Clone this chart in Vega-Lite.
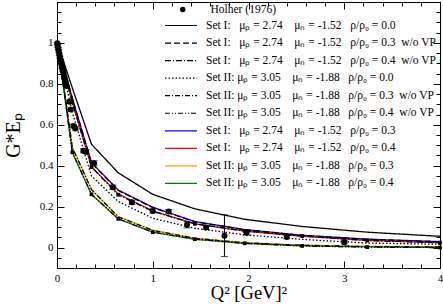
{
  "$schema": "https://vega.github.io/schema/vega-lite/v6.json",
  "width": 383,
  "height": 266,
  "autosize": {"type": "none"},
  "padding": {"left": 57, "top": 2, "right": 3, "bottom": 40},
  "config": {
    "view": {"stroke": "black", "strokeWidth": 1},
    "font": "Liberation Serif",
    "axis": {
      "labelFont": "Liberation Serif", "labelFontSize": 11, "labelColor": "black",
      "tickColor": "black", "domainColor": "black", "grid": false,
      "labelOverlap": false, "labelFlush": false,
      "titleFont": "Liberation Serif", "titleFontWeight": "normal", "titleColor": "black"
    }
  },
  "datasets": {
    "colored": [
      {"series": "Set I:\u00a0\u00a0\u00a0μₚ = 2.74\u00a0\u00a0\u00a0\u00a0μₙ = -1.52\u00a0\u00a0\u00a0ρ/ρ₀ = 0.3", "q2": 0, "g": 1},
      {"series": "Set I:\u00a0\u00a0\u00a0μₚ = 2.74\u00a0\u00a0\u00a0\u00a0μₙ = -1.52\u00a0\u00a0\u00a0ρ/ρ₀ = 0.3", "q2": 0.04, "g": 0.93},
      {"series": "Set I:\u00a0\u00a0\u00a0μₚ = 2.74\u00a0\u00a0\u00a0\u00a0μₙ = -1.52\u00a0\u00a0\u00a0ρ/ρ₀ = 0.3", "q2": 0.16, "g": 0.73},
      {"series": "Set I:\u00a0\u00a0\u00a0μₚ = 2.74\u00a0\u00a0\u00a0\u00a0μₙ = -1.52\u00a0\u00a0\u00a0ρ/ρ₀ = 0.3", "q2": 0.36, "g": 0.415},
      {"series": "Set I:\u00a0\u00a0\u00a0μₚ = 2.74\u00a0\u00a0\u00a0\u00a0μₙ = -1.52\u00a0\u00a0\u00a0ρ/ρ₀ = 0.3", "q2": 0.64, "g": 0.281},
      {"series": "Set I:\u00a0\u00a0\u00a0μₚ = 2.74\u00a0\u00a0\u00a0\u00a0μₙ = -1.52\u00a0\u00a0\u00a0ρ/ρ₀ = 0.3", "q2": 1, "g": 0.197},
      {"series": "Set I:\u00a0\u00a0\u00a0μₚ = 2.74\u00a0\u00a0\u00a0\u00a0μₙ = -1.52\u00a0\u00a0\u00a0ρ/ρ₀ = 0.3", "q2": 1.44, "g": 0.127},
      {"series": "Set I:\u00a0\u00a0\u00a0μₚ = 2.74\u00a0\u00a0\u00a0\u00a0μₙ = -1.52\u00a0\u00a0\u00a0ρ/ρ₀ = 0.3", "q2": 1.96, "g": 0.088},
      {"series": "Set I:\u00a0\u00a0\u00a0μₚ = 2.74\u00a0\u00a0\u00a0\u00a0μₙ = -1.52\u00a0\u00a0\u00a0ρ/ρ₀ = 0.3", "q2": 2.56, "g": 0.06},
      {"series": "Set I:\u00a0\u00a0\u00a0μₚ = 2.74\u00a0\u00a0\u00a0\u00a0μₙ = -1.52\u00a0\u00a0\u00a0ρ/ρ₀ = 0.3", "q2": 3.24, "g": 0.041},
      {"series": "Set I:\u00a0\u00a0\u00a0μₚ = 2.74\u00a0\u00a0\u00a0\u00a0μₙ = -1.52\u00a0\u00a0\u00a0ρ/ρ₀ = 0.3", "q2": 4, "g": 0.029},
      {"series": "Set I:\u00a0\u00a0\u00a0μₚ = 2.74\u00a0\u00a0\u00a0\u00a0μₙ = -1.52\u00a0\u00a0\u00a0ρ/ρ₀ = 0.4", "q2": 0, "g": 1},
      {"series": "Set I:\u00a0\u00a0\u00a0μₚ = 2.74\u00a0\u00a0\u00a0\u00a0μₙ = -1.52\u00a0\u00a0\u00a0ρ/ρ₀ = 0.4", "q2": 0.04, "g": 0.92},
      {"series": "Set I:\u00a0\u00a0\u00a0μₚ = 2.74\u00a0\u00a0\u00a0\u00a0μₙ = -1.52\u00a0\u00a0\u00a0ρ/ρ₀ = 0.4", "q2": 0.16, "g": 0.71},
      {"series": "Set I:\u00a0\u00a0\u00a0μₚ = 2.74\u00a0\u00a0\u00a0\u00a0μₙ = -1.52\u00a0\u00a0\u00a0ρ/ρ₀ = 0.4", "q2": 0.36, "g": 0.395},
      {"series": "Set I:\u00a0\u00a0\u00a0μₚ = 2.74\u00a0\u00a0\u00a0\u00a0μₙ = -1.52\u00a0\u00a0\u00a0ρ/ρ₀ = 0.4", "q2": 0.64, "g": 0.262},
      {"series": "Set I:\u00a0\u00a0\u00a0μₚ = 2.74\u00a0\u00a0\u00a0\u00a0μₙ = -1.52\u00a0\u00a0\u00a0ρ/ρ₀ = 0.4", "q2": 1, "g": 0.179},
      {"series": "Set I:\u00a0\u00a0\u00a0μₚ = 2.74\u00a0\u00a0\u00a0\u00a0μₙ = -1.52\u00a0\u00a0\u00a0ρ/ρ₀ = 0.4", "q2": 1.44, "g": 0.116},
      {"series": "Set I:\u00a0\u00a0\u00a0μₚ = 2.74\u00a0\u00a0\u00a0\u00a0μₙ = -1.52\u00a0\u00a0\u00a0ρ/ρ₀ = 0.4", "q2": 1.96, "g": 0.08},
      {"series": "Set I:\u00a0\u00a0\u00a0μₚ = 2.74\u00a0\u00a0\u00a0\u00a0μₙ = -1.52\u00a0\u00a0\u00a0ρ/ρ₀ = 0.4", "q2": 2.56, "g": 0.055},
      {"series": "Set I:\u00a0\u00a0\u00a0μₚ = 2.74\u00a0\u00a0\u00a0\u00a0μₙ = -1.52\u00a0\u00a0\u00a0ρ/ρ₀ = 0.4", "q2": 3.24, "g": 0.035},
      {"series": "Set I:\u00a0\u00a0\u00a0μₚ = 2.74\u00a0\u00a0\u00a0\u00a0μₙ = -1.52\u00a0\u00a0\u00a0ρ/ρ₀ = 0.4", "q2": 4, "g": 0.023},
      {"series": "Set II:\u00a0μₚ = 3.05\u00a0\u00a0\u00a0\u00a0μₙ = -1.88\u00a0\u00a0\u00a0ρ/ρ₀ = 0.3", "q2": 0, "g": 1},
      {"series": "Set II:\u00a0μₚ = 3.05\u00a0\u00a0\u00a0\u00a0μₙ = -1.88\u00a0\u00a0\u00a0ρ/ρ₀ = 0.3", "q2": 0.04, "g": 0.89},
      {"series": "Set II:\u00a0μₚ = 3.05\u00a0\u00a0\u00a0\u00a0μₙ = -1.88\u00a0\u00a0\u00a0ρ/ρ₀ = 0.3", "q2": 0.16, "g": 0.49},
      {"series": "Set II:\u00a0μₚ = 3.05\u00a0\u00a0\u00a0\u00a0μₙ = -1.88\u00a0\u00a0\u00a0ρ/ρ₀ = 0.3", "q2": 0.36, "g": 0.285},
      {"series": "Set II:\u00a0μₚ = 3.05\u00a0\u00a0\u00a0\u00a0μₙ = -1.88\u00a0\u00a0\u00a0ρ/ρ₀ = 0.3", "q2": 0.64, "g": 0.151},
      {"series": "Set II:\u00a0μₚ = 3.05\u00a0\u00a0\u00a0\u00a0μₙ = -1.88\u00a0\u00a0\u00a0ρ/ρ₀ = 0.3", "q2": 1, "g": 0.085},
      {"series": "Set II:\u00a0μₚ = 3.05\u00a0\u00a0\u00a0\u00a0μₙ = -1.88\u00a0\u00a0\u00a0ρ/ρ₀ = 0.3", "q2": 1.44, "g": 0.046},
      {"series": "Set II:\u00a0μₚ = 3.05\u00a0\u00a0\u00a0\u00a0μₙ = -1.88\u00a0\u00a0\u00a0ρ/ρ₀ = 0.3", "q2": 1.96, "g": 0.024},
      {"series": "Set II:\u00a0μₚ = 3.05\u00a0\u00a0\u00a0\u00a0μₙ = -1.88\u00a0\u00a0\u00a0ρ/ρ₀ = 0.3", "q2": 2.56, "g": 0.012},
      {"series": "Set II:\u00a0μₚ = 3.05\u00a0\u00a0\u00a0\u00a0μₙ = -1.88\u00a0\u00a0\u00a0ρ/ρ₀ = 0.3", "q2": 3.24, "g": 0.006},
      {"series": "Set II:\u00a0μₚ = 3.05\u00a0\u00a0\u00a0\u00a0μₙ = -1.88\u00a0\u00a0\u00a0ρ/ρ₀ = 0.3", "q2": 4, "g": 0.004},
      {"series": "Set II:\u00a0μₚ = 3.05\u00a0\u00a0\u00a0\u00a0μₙ = -1.88\u00a0\u00a0\u00a0ρ/ρ₀ = 0.4", "q2": 0, "g": 1},
      {"series": "Set II:\u00a0μₚ = 3.05\u00a0\u00a0\u00a0\u00a0μₙ = -1.88\u00a0\u00a0\u00a0ρ/ρ₀ = 0.4", "q2": 0.04, "g": 0.88},
      {"series": "Set II:\u00a0μₚ = 3.05\u00a0\u00a0\u00a0\u00a0μₙ = -1.88\u00a0\u00a0\u00a0ρ/ρ₀ = 0.4", "q2": 0.16, "g": 0.465},
      {"series": "Set II:\u00a0μₚ = 3.05\u00a0\u00a0\u00a0\u00a0μₙ = -1.88\u00a0\u00a0\u00a0ρ/ρ₀ = 0.4", "q2": 0.36, "g": 0.26},
      {"series": "Set II:\u00a0μₚ = 3.05\u00a0\u00a0\u00a0\u00a0μₙ = -1.88\u00a0\u00a0\u00a0ρ/ρ₀ = 0.4", "q2": 0.64, "g": 0.14},
      {"series": "Set II:\u00a0μₚ = 3.05\u00a0\u00a0\u00a0\u00a0μₙ = -1.88\u00a0\u00a0\u00a0ρ/ρ₀ = 0.4", "q2": 1, "g": 0.075},
      {"series": "Set II:\u00a0μₚ = 3.05\u00a0\u00a0\u00a0\u00a0μₙ = -1.88\u00a0\u00a0\u00a0ρ/ρ₀ = 0.4", "q2": 1.44, "g": 0.04},
      {"series": "Set II:\u00a0μₚ = 3.05\u00a0\u00a0\u00a0\u00a0μₙ = -1.88\u00a0\u00a0\u00a0ρ/ρ₀ = 0.4", "q2": 1.96, "g": 0.02},
      {"series": "Set II:\u00a0μₚ = 3.05\u00a0\u00a0\u00a0\u00a0μₙ = -1.88\u00a0\u00a0\u00a0ρ/ρ₀ = 0.4", "q2": 2.56, "g": 0.008},
      {"series": "Set II:\u00a0μₚ = 3.05\u00a0\u00a0\u00a0\u00a0μₙ = -1.88\u00a0\u00a0\u00a0ρ/ρ₀ = 0.4", "q2": 3.24, "g": 0.003},
      {"series": "Set II:\u00a0μₚ = 3.05\u00a0\u00a0\u00a0\u00a0μₙ = -1.88\u00a0\u00a0\u00a0ρ/ρ₀ = 0.4", "q2": 4, "g": 0.0}
    ],
    "black": [
      {"series": "Set I:\u00a0\u00a0\u00a0μₚ = 2.74\u00a0\u00a0\u00a0\u00a0μₙ = -1.52\u00a0\u00a0\u00a0ρ/ρ₀ = 0.0", "q2": 0, "g": 1},
      {"series": "Set I:\u00a0\u00a0\u00a0μₚ = 2.74\u00a0\u00a0\u00a0\u00a0μₙ = -1.52\u00a0\u00a0\u00a0ρ/ρ₀ = 0.0", "q2": 0.04, "g": 0.95},
      {"series": "Set I:\u00a0\u00a0\u00a0μₚ = 2.74\u00a0\u00a0\u00a0\u00a0μₙ = -1.52\u00a0\u00a0\u00a0ρ/ρ₀ = 0.0", "q2": 0.16, "g": 0.78},
      {"series": "Set I:\u00a0\u00a0\u00a0μₚ = 2.74\u00a0\u00a0\u00a0\u00a0μₙ = -1.52\u00a0\u00a0\u00a0ρ/ρ₀ = 0.0", "q2": 0.36, "g": 0.505},
      {"series": "Set I:\u00a0\u00a0\u00a0μₚ = 2.74\u00a0\u00a0\u00a0\u00a0μₙ = -1.52\u00a0\u00a0\u00a0ρ/ρ₀ = 0.0", "q2": 0.64, "g": 0.365},
      {"series": "Set I:\u00a0\u00a0\u00a0μₚ = 2.74\u00a0\u00a0\u00a0\u00a0μₙ = -1.52\u00a0\u00a0\u00a0ρ/ρ₀ = 0.0", "q2": 1, "g": 0.26},
      {"series": "Set I:\u00a0\u00a0\u00a0μₚ = 2.74\u00a0\u00a0\u00a0\u00a0μₙ = -1.52\u00a0\u00a0\u00a0ρ/ρ₀ = 0.0", "q2": 1.44, "g": 0.189},
      {"series": "Set I:\u00a0\u00a0\u00a0μₚ = 2.74\u00a0\u00a0\u00a0\u00a0μₙ = -1.52\u00a0\u00a0\u00a0ρ/ρ₀ = 0.0", "q2": 1.96, "g": 0.138},
      {"series": "Set I:\u00a0\u00a0\u00a0μₚ = 2.74\u00a0\u00a0\u00a0\u00a0μₙ = -1.52\u00a0\u00a0\u00a0ρ/ρ₀ = 0.0", "q2": 2.56, "g": 0.103},
      {"series": "Set I:\u00a0\u00a0\u00a0μₚ = 2.74\u00a0\u00a0\u00a0\u00a0μₙ = -1.52\u00a0\u00a0\u00a0ρ/ρ₀ = 0.0", "q2": 3.24, "g": 0.075},
      {"series": "Set I:\u00a0\u00a0\u00a0μₚ = 2.74\u00a0\u00a0\u00a0\u00a0μₙ = -1.52\u00a0\u00a0\u00a0ρ/ρ₀ = 0.0", "q2": 4, "g": 0.055},
      {"series": "Set I:\u00a0\u00a0\u00a0μₚ = 2.74\u00a0\u00a0\u00a0\u00a0μₙ = -1.52\u00a0\u00a0\u00a0ρ/ρ₀ = 0.3\u00a0\u00a0w/o VP", "q2": 0, "g": 1},
      {"series": "Set I:\u00a0\u00a0\u00a0μₚ = 2.74\u00a0\u00a0\u00a0\u00a0μₙ = -1.52\u00a0\u00a0\u00a0ρ/ρ₀ = 0.3\u00a0\u00a0w/o VP", "q2": 0.04, "g": 0.93},
      {"series": "Set I:\u00a0\u00a0\u00a0μₚ = 2.74\u00a0\u00a0\u00a0\u00a0μₙ = -1.52\u00a0\u00a0\u00a0ρ/ρ₀ = 0.3\u00a0\u00a0w/o VP", "q2": 0.16, "g": 0.73},
      {"series": "Set I:\u00a0\u00a0\u00a0μₚ = 2.74\u00a0\u00a0\u00a0\u00a0μₙ = -1.52\u00a0\u00a0\u00a0ρ/ρ₀ = 0.3\u00a0\u00a0w/o VP", "q2": 0.36, "g": 0.413},
      {"series": "Set I:\u00a0\u00a0\u00a0μₚ = 2.74\u00a0\u00a0\u00a0\u00a0μₙ = -1.52\u00a0\u00a0\u00a0ρ/ρ₀ = 0.3\u00a0\u00a0w/o VP", "q2": 0.64, "g": 0.279},
      {"series": "Set I:\u00a0\u00a0\u00a0μₚ = 2.74\u00a0\u00a0\u00a0\u00a0μₙ = -1.52\u00a0\u00a0\u00a0ρ/ρ₀ = 0.3\u00a0\u00a0w/o VP", "q2": 1, "g": 0.195},
      {"series": "Set I:\u00a0\u00a0\u00a0μₚ = 2.74\u00a0\u00a0\u00a0\u00a0μₙ = -1.52\u00a0\u00a0\u00a0ρ/ρ₀ = 0.3\u00a0\u00a0w/o VP", "q2": 1.44, "g": 0.126},
      {"series": "Set I:\u00a0\u00a0\u00a0μₚ = 2.74\u00a0\u00a0\u00a0\u00a0μₙ = -1.52\u00a0\u00a0\u00a0ρ/ρ₀ = 0.3\u00a0\u00a0w/o VP", "q2": 1.96, "g": 0.087},
      {"series": "Set I:\u00a0\u00a0\u00a0μₚ = 2.74\u00a0\u00a0\u00a0\u00a0μₙ = -1.52\u00a0\u00a0\u00a0ρ/ρ₀ = 0.3\u00a0\u00a0w/o VP", "q2": 2.56, "g": 0.059},
      {"series": "Set I:\u00a0\u00a0\u00a0μₚ = 2.74\u00a0\u00a0\u00a0\u00a0μₙ = -1.52\u00a0\u00a0\u00a0ρ/ρ₀ = 0.3\u00a0\u00a0w/o VP", "q2": 3.24, "g": 0.04},
      {"series": "Set I:\u00a0\u00a0\u00a0μₚ = 2.74\u00a0\u00a0\u00a0\u00a0μₙ = -1.52\u00a0\u00a0\u00a0ρ/ρ₀ = 0.3\u00a0\u00a0w/o VP", "q2": 4, "g": 0.028},
      {"series": "Set I:\u00a0\u00a0\u00a0μₚ = 2.74\u00a0\u00a0\u00a0\u00a0μₙ = -1.52\u00a0\u00a0\u00a0ρ/ρ₀ = 0.4\u00a0\u00a0w/o VP", "q2": 0, "g": 1},
      {"series": "Set I:\u00a0\u00a0\u00a0μₚ = 2.74\u00a0\u00a0\u00a0\u00a0μₙ = -1.52\u00a0\u00a0\u00a0ρ/ρ₀ = 0.4\u00a0\u00a0w/o VP", "q2": 0.04, "g": 0.92},
      {"series": "Set I:\u00a0\u00a0\u00a0μₚ = 2.74\u00a0\u00a0\u00a0\u00a0μₙ = -1.52\u00a0\u00a0\u00a0ρ/ρ₀ = 0.4\u00a0\u00a0w/o VP", "q2": 0.16, "g": 0.71},
      {"series": "Set I:\u00a0\u00a0\u00a0μₚ = 2.74\u00a0\u00a0\u00a0\u00a0μₙ = -1.52\u00a0\u00a0\u00a0ρ/ρ₀ = 0.4\u00a0\u00a0w/o VP", "q2": 0.36, "g": 0.393},
      {"series": "Set I:\u00a0\u00a0\u00a0μₚ = 2.74\u00a0\u00a0\u00a0\u00a0μₙ = -1.52\u00a0\u00a0\u00a0ρ/ρ₀ = 0.4\u00a0\u00a0w/o VP", "q2": 0.64, "g": 0.258},
      {"series": "Set I:\u00a0\u00a0\u00a0μₚ = 2.74\u00a0\u00a0\u00a0\u00a0μₙ = -1.52\u00a0\u00a0\u00a0ρ/ρ₀ = 0.4\u00a0\u00a0w/o VP", "q2": 1, "g": 0.177},
      {"series": "Set I:\u00a0\u00a0\u00a0μₚ = 2.74\u00a0\u00a0\u00a0\u00a0μₙ = -1.52\u00a0\u00a0\u00a0ρ/ρ₀ = 0.4\u00a0\u00a0w/o VP", "q2": 1.44, "g": 0.116},
      {"series": "Set I:\u00a0\u00a0\u00a0μₚ = 2.74\u00a0\u00a0\u00a0\u00a0μₙ = -1.52\u00a0\u00a0\u00a0ρ/ρ₀ = 0.4\u00a0\u00a0w/o VP", "q2": 1.96, "g": 0.081},
      {"series": "Set I:\u00a0\u00a0\u00a0μₚ = 2.74\u00a0\u00a0\u00a0\u00a0μₙ = -1.52\u00a0\u00a0\u00a0ρ/ρ₀ = 0.4\u00a0\u00a0w/o VP", "q2": 2.56, "g": 0.056},
      {"series": "Set I:\u00a0\u00a0\u00a0μₚ = 2.74\u00a0\u00a0\u00a0\u00a0μₙ = -1.52\u00a0\u00a0\u00a0ρ/ρ₀ = 0.4\u00a0\u00a0w/o VP", "q2": 3.24, "g": 0.034},
      {"series": "Set I:\u00a0\u00a0\u00a0μₚ = 2.74\u00a0\u00a0\u00a0\u00a0μₙ = -1.52\u00a0\u00a0\u00a0ρ/ρ₀ = 0.4\u00a0\u00a0w/o VP", "q2": 4, "g": 0.024},
      {"series": "Set II:\u00a0μₚ = 3.05\u00a0\u00a0\u00a0\u00a0μₙ = -1.88\u00a0\u00a0\u00a0ρ/ρ₀ = 0.0", "q2": 0, "g": 1},
      {"series": "Set II:\u00a0μₚ = 3.05\u00a0\u00a0\u00a0\u00a0μₙ = -1.88\u00a0\u00a0\u00a0ρ/ρ₀ = 0.0", "q2": 0.04, "g": 0.91},
      {"series": "Set II:\u00a0μₚ = 3.05\u00a0\u00a0\u00a0\u00a0μₙ = -1.88\u00a0\u00a0\u00a0ρ/ρ₀ = 0.0", "q2": 0.16, "g": 0.66},
      {"series": "Set II:\u00a0μₚ = 3.05\u00a0\u00a0\u00a0\u00a0μₙ = -1.88\u00a0\u00a0\u00a0ρ/ρ₀ = 0.0", "q2": 0.36, "g": 0.35},
      {"series": "Set II:\u00a0μₚ = 3.05\u00a0\u00a0\u00a0\u00a0μₙ = -1.88\u00a0\u00a0\u00a0ρ/ρ₀ = 0.0", "q2": 0.64, "g": 0.225},
      {"series": "Set II:\u00a0μₚ = 3.05\u00a0\u00a0\u00a0\u00a0μₙ = -1.88\u00a0\u00a0\u00a0ρ/ρ₀ = 0.0", "q2": 1, "g": 0.143},
      {"series": "Set II:\u00a0μₚ = 3.05\u00a0\u00a0\u00a0\u00a0μₙ = -1.88\u00a0\u00a0\u00a0ρ/ρ₀ = 0.0", "q2": 1.44, "g": 0.094},
      {"series": "Set II:\u00a0μₚ = 3.05\u00a0\u00a0\u00a0\u00a0μₙ = -1.88\u00a0\u00a0\u00a0ρ/ρ₀ = 0.0", "q2": 1.96, "g": 0.062},
      {"series": "Set II:\u00a0μₚ = 3.05\u00a0\u00a0\u00a0\u00a0μₙ = -1.88\u00a0\u00a0\u00a0ρ/ρ₀ = 0.0", "q2": 2.56, "g": 0.04},
      {"series": "Set II:\u00a0μₚ = 3.05\u00a0\u00a0\u00a0\u00a0μₙ = -1.88\u00a0\u00a0\u00a0ρ/ρ₀ = 0.0", "q2": 3.24, "g": 0.022},
      {"series": "Set II:\u00a0μₚ = 3.05\u00a0\u00a0\u00a0\u00a0μₙ = -1.88\u00a0\u00a0\u00a0ρ/ρ₀ = 0.0", "q2": 4, "g": 0.016},
      {"series": "Set II:\u00a0μₚ = 3.05\u00a0\u00a0\u00a0\u00a0μₙ = -1.88\u00a0\u00a0\u00a0ρ/ρ₀ = 0.3\u00a0\u00a0w/o VP", "q2": 0, "g": 1},
      {"series": "Set II:\u00a0μₚ = 3.05\u00a0\u00a0\u00a0\u00a0μₙ = -1.88\u00a0\u00a0\u00a0ρ/ρ₀ = 0.3\u00a0\u00a0w/o VP", "q2": 0.04, "g": 0.89},
      {"series": "Set II:\u00a0μₚ = 3.05\u00a0\u00a0\u00a0\u00a0μₙ = -1.88\u00a0\u00a0\u00a0ρ/ρ₀ = 0.3\u00a0\u00a0w/o VP", "q2": 0.16, "g": 0.49},
      {"series": "Set II:\u00a0μₚ = 3.05\u00a0\u00a0\u00a0\u00a0μₙ = -1.88\u00a0\u00a0\u00a0ρ/ρ₀ = 0.3\u00a0\u00a0w/o VP", "q2": 0.36, "g": 0.283},
      {"series": "Set II:\u00a0μₚ = 3.05\u00a0\u00a0\u00a0\u00a0μₙ = -1.88\u00a0\u00a0\u00a0ρ/ρ₀ = 0.3\u00a0\u00a0w/o VP", "q2": 0.64, "g": 0.15},
      {"series": "Set II:\u00a0μₚ = 3.05\u00a0\u00a0\u00a0\u00a0μₙ = -1.88\u00a0\u00a0\u00a0ρ/ρ₀ = 0.3\u00a0\u00a0w/o VP", "q2": 1, "g": 0.084},
      {"series": "Set II:\u00a0μₚ = 3.05\u00a0\u00a0\u00a0\u00a0μₙ = -1.88\u00a0\u00a0\u00a0ρ/ρ₀ = 0.3\u00a0\u00a0w/o VP", "q2": 1.44, "g": 0.045},
      {"series": "Set II:\u00a0μₚ = 3.05\u00a0\u00a0\u00a0\u00a0μₙ = -1.88\u00a0\u00a0\u00a0ρ/ρ₀ = 0.3\u00a0\u00a0w/o VP", "q2": 1.96, "g": 0.023},
      {"series": "Set II:\u00a0μₚ = 3.05\u00a0\u00a0\u00a0\u00a0μₙ = -1.88\u00a0\u00a0\u00a0ρ/ρ₀ = 0.3\u00a0\u00a0w/o VP", "q2": 2.56, "g": 0.011},
      {"series": "Set II:\u00a0μₚ = 3.05\u00a0\u00a0\u00a0\u00a0μₙ = -1.88\u00a0\u00a0\u00a0ρ/ρ₀ = 0.3\u00a0\u00a0w/o VP", "q2": 3.24, "g": 0.005},
      {"series": "Set II:\u00a0μₚ = 3.05\u00a0\u00a0\u00a0\u00a0μₙ = -1.88\u00a0\u00a0\u00a0ρ/ρ₀ = 0.3\u00a0\u00a0w/o VP", "q2": 4, "g": 0.003},
      {"series": "Set II:\u00a0μₚ = 3.05\u00a0\u00a0\u00a0\u00a0μₙ = -1.88\u00a0\u00a0\u00a0ρ/ρ₀ = 0.4\u00a0\u00a0w/o VP", "q2": 0, "g": 1},
      {"series": "Set II:\u00a0μₚ = 3.05\u00a0\u00a0\u00a0\u00a0μₙ = -1.88\u00a0\u00a0\u00a0ρ/ρ₀ = 0.4\u00a0\u00a0w/o VP", "q2": 0.04, "g": 0.88},
      {"series": "Set II:\u00a0μₚ = 3.05\u00a0\u00a0\u00a0\u00a0μₙ = -1.88\u00a0\u00a0\u00a0ρ/ρ₀ = 0.4\u00a0\u00a0w/o VP", "q2": 0.16, "g": 0.465},
      {"series": "Set II:\u00a0μₚ = 3.05\u00a0\u00a0\u00a0\u00a0μₙ = -1.88\u00a0\u00a0\u00a0ρ/ρ₀ = 0.4\u00a0\u00a0w/o VP", "q2": 0.36, "g": 0.26},
      {"series": "Set II:\u00a0μₚ = 3.05\u00a0\u00a0\u00a0\u00a0μₙ = -1.88\u00a0\u00a0\u00a0ρ/ρ₀ = 0.4\u00a0\u00a0w/o VP", "q2": 0.64, "g": 0.14},
      {"series": "Set II:\u00a0μₚ = 3.05\u00a0\u00a0\u00a0\u00a0μₙ = -1.88\u00a0\u00a0\u00a0ρ/ρ₀ = 0.4\u00a0\u00a0w/o VP", "q2": 1, "g": 0.075},
      {"series": "Set II:\u00a0μₚ = 3.05\u00a0\u00a0\u00a0\u00a0μₙ = -1.88\u00a0\u00a0\u00a0ρ/ρ₀ = 0.4\u00a0\u00a0w/o VP", "q2": 1.44, "g": 0.041},
      {"series": "Set II:\u00a0μₚ = 3.05\u00a0\u00a0\u00a0\u00a0μₙ = -1.88\u00a0\u00a0\u00a0ρ/ρ₀ = 0.4\u00a0\u00a0w/o VP", "q2": 1.96, "g": 0.021},
      {"series": "Set II:\u00a0μₚ = 3.05\u00a0\u00a0\u00a0\u00a0μₙ = -1.88\u00a0\u00a0\u00a0ρ/ρ₀ = 0.4\u00a0\u00a0w/o VP", "q2": 2.56, "g": 0.008},
      {"series": "Set II:\u00a0μₚ = 3.05\u00a0\u00a0\u00a0\u00a0μₙ = -1.88\u00a0\u00a0\u00a0ρ/ρ₀ = 0.4\u00a0\u00a0w/o VP", "q2": 3.24, "g": 0.002},
      {"series": "Set II:\u00a0μₚ = 3.05\u00a0\u00a0\u00a0\u00a0μₙ = -1.88\u00a0\u00a0\u00a0ρ/ρ₀ = 0.4\u00a0\u00a0w/o VP", "q2": 4, "g": 0.0}
    ],
    "holher": [
      {"series": "Holher (1976)", "q2": 0.003, "g": 0.998, "lo": 0.993, "hi": 1.003},
      {"series": "Holher (1976)", "q2": 0.008, "g": 0.985, "lo": 0.98, "hi": 0.99},
      {"series": "Holher (1976)", "q2": 0.013, "g": 0.972, "lo": 0.967, "hi": 0.977},
      {"series": "Holher (1976)", "q2": 0.018, "g": 0.96, "lo": 0.955, "hi": 0.965},
      {"series": "Holher (1976)", "q2": 0.024, "g": 0.945, "lo": 0.94, "hi": 0.95},
      {"series": "Holher (1976)", "q2": 0.03, "g": 0.93, "lo": 0.925, "hi": 0.935},
      {"series": "Holher (1976)", "q2": 0.037, "g": 0.915, "lo": 0.91, "hi": 0.92},
      {"series": "Holher (1976)", "q2": 0.044, "g": 0.9, "lo": 0.895, "hi": 0.905},
      {"series": "Holher (1976)", "q2": 0.052, "g": 0.882, "lo": 0.877, "hi": 0.887},
      {"series": "Holher (1976)", "q2": 0.06, "g": 0.865, "lo": 0.86, "hi": 0.87},
      {"series": "Holher (1976)", "q2": 0.068, "g": 0.85, "lo": 0.845, "hi": 0.855},
      {"series": "Holher (1976)", "q2": 0.077, "g": 0.83, "lo": 0.825, "hi": 0.835},
      {"series": "Holher (1976)", "q2": 0.087, "g": 0.812, "lo": 0.807, "hi": 0.817},
      {"series": "Holher (1976)", "q2": 0.098, "g": 0.79, "lo": 0.785, "hi": 0.795},
      {"series": "Holher (1976)", "q2": 0.129, "g": 0.712, "lo": 0.705, "hi": 0.719},
      {"series": "Holher (1976)", "q2": 0.143, "g": 0.675, "lo": 0.668, "hi": 0.682},
      {"series": "Holher (1976)", "q2": 0.171, "g": 0.594, "lo": 0.586, "hi": 0.602},
      {"series": "Holher (1976)", "q2": 0.192, "g": 0.582, "lo": 0.574, "hi": 0.59},
      {"series": "Holher (1976)", "q2": 0.276, "g": 0.473, "lo": 0.463, "hi": 0.483},
      {"series": "Holher (1976)", "q2": 0.304, "g": 0.468, "lo": 0.458, "hi": 0.478},
      {"series": "Holher (1976)", "q2": 0.387, "g": 0.412, "lo": 0.4, "hi": 0.424},
      {"series": "Holher (1976)", "q2": 0.583, "g": 0.295, "lo": 0.285, "hi": 0.305},
      {"series": "Holher (1976)", "q2": 0.782, "g": 0.221, "lo": 0.211, "hi": 0.231},
      {"series": "Holher (1976)", "q2": 1.0, "g": 0.179, "lo": 0.169, "hi": 0.189},
      {"series": "Holher (1976)", "q2": 1.166, "g": 0.176, "lo": 0.166, "hi": 0.186},
      {"series": "Holher (1976)", "q2": 1.358, "g": 0.111, "lo": 0.096, "hi": 0.126},
      {"series": "Holher (1976)", "q2": 1.557, "g": 0.098, "lo": 0.088, "hi": 0.108},
      {"series": "Holher (1976)", "q2": 1.749, "g": 0.058, "lo": -0.044, "hi": 0.16},
      {"series": "Holher (1976)", "q2": 1.98, "g": 0.072, "lo": 0.062, "hi": 0.082},
      {"series": "Holher (1976)", "q2": 2.4, "g": 0.051, "lo": 0.043, "hi": 0.059},
      {"series": "Holher (1976)", "q2": 3.0, "g": 0.026, "lo": 0.018, "hi": 0.034}
    ]
  },
  "layer": [
    {
      "data": {"name": "colored"},
      "mark": {"type": "line", "strokeWidth": 1.3},
      "encoding": {
        "x": {
          "field": "q2", "type": "quantitative",
          "scale": {"domain": [0, 4], "nice": false, "zero": false},
          "axis": {
            "orient": "bottom",
            "values": [0, 0.2, 0.4, 0.6, 0.8, 1, 1.2, 1.4, 1.6, 1.8, 2, 2.2, 2.4, 2.6, 2.8, 3, 3.2, 3.4, 3.6, 3.8, 4],
            "tickSize": {"condition": {"test": "datum.value % 1 === 0", "value": -7}, "value": -4},
            "labelExpr": "datum.value % 1 === 0 ? format(datum.value, 'd') : ''",
            "labelPadding": 11,
            "title": "Q² [GeV]²", "titleFontSize": 18.5, "titleY": 24, "titleBaseline": "middle"
          }
        },
        "y": {
          "field": "g", "type": "quantitative",
          "scale": {"domain": [-0.1, 1.2], "nice": false, "zero": false},
          "axis": {
            "orient": "left",
            "values": [-0.1, -0.05, 0, 0.05, 0.1, 0.15, 0.2, 0.25, 0.3, 0.35, 0.4, 0.45, 0.5, 0.55, 0.6, 0.65, 0.7, 0.75, 0.8, 0.85, 0.9, 0.95, 1, 1.05, 1.1, 1.15, 1.2],
            "tickSize": {"condition": {"test": "abs(datum.value*5 - round(datum.value*5)) < 0.001", "value": -7}, "value": -4},
            "labelExpr": "abs(datum.value*5 - round(datum.value*5)) < 0.001 && datum.value > -0.05 && datum.value < 1.1 ? format(datum.value, '~g') : ''",
            "labelPadding": 11,
            "title": "G*Eₚ", "titleFontSize": 20, "titleX": -44, "titleY": 133, "titleAngle": 270, "titleBaseline": "middle", "titleAlign": "center"
          }
        },
        "color": {
          "field": "series", "type": "nominal",
          "scale": {
            "domain": ["Set I:\u00a0\u00a0\u00a0μₚ = 2.74\u00a0\u00a0\u00a0\u00a0μₙ = -1.52\u00a0\u00a0\u00a0ρ/ρ₀ = 0.0", "Set I:\u00a0\u00a0\u00a0μₚ = 2.74\u00a0\u00a0\u00a0\u00a0μₙ = -1.52\u00a0\u00a0\u00a0ρ/ρ₀ = 0.3\u00a0\u00a0w/o VP", "Set I:\u00a0\u00a0\u00a0μₚ = 2.74\u00a0\u00a0\u00a0\u00a0μₙ = -1.52\u00a0\u00a0\u00a0ρ/ρ₀ = 0.4\u00a0\u00a0w/o VP", "Set II:\u00a0μₚ = 3.05\u00a0\u00a0\u00a0\u00a0μₙ = -1.88\u00a0\u00a0\u00a0ρ/ρ₀ = 0.0", "Set II:\u00a0μₚ = 3.05\u00a0\u00a0\u00a0\u00a0μₙ = -1.88\u00a0\u00a0\u00a0ρ/ρ₀ = 0.3\u00a0\u00a0w/o VP", "Set II:\u00a0μₚ = 3.05\u00a0\u00a0\u00a0\u00a0μₙ = -1.88\u00a0\u00a0\u00a0ρ/ρ₀ = 0.4\u00a0\u00a0w/o VP", "Set I:\u00a0\u00a0\u00a0μₚ = 2.74\u00a0\u00a0\u00a0\u00a0μₙ = -1.52\u00a0\u00a0\u00a0ρ/ρ₀ = 0.3", "Set I:\u00a0\u00a0\u00a0μₚ = 2.74\u00a0\u00a0\u00a0\u00a0μₙ = -1.52\u00a0\u00a0\u00a0ρ/ρ₀ = 0.4", "Set II:\u00a0μₚ = 3.05\u00a0\u00a0\u00a0\u00a0μₙ = -1.88\u00a0\u00a0\u00a0ρ/ρ₀ = 0.3", "Set II:\u00a0μₚ = 3.05\u00a0\u00a0\u00a0\u00a0μₙ = -1.88\u00a0\u00a0\u00a0ρ/ρ₀ = 0.4"],
            "range": ["black", "black", "black", "black", "black", "black", "#0000ff", "#ff0000", "#ffa500", "#008000"]
          },
          "legend": {
            "orient": "none", "legendX": 107, "legendY": 18, "title": null,
            "labelFont": "Liberation Serif", "labelFontSize": 11.5, "labelColor": "black", "labelLimit": 400,
            "symbolType": "stroke", "symbolSize": 1024, "symbolStrokeWidth": 1.2,
            "clipHeight": 11, "rowPadding": 5.55, "labelOffset": 8, "padding": 0
          }
        },
        "strokeDash": {
          "field": "series", "type": "nominal",
          "scale": {
            "domain": ["Set I:\u00a0\u00a0\u00a0μₚ = 2.74\u00a0\u00a0\u00a0\u00a0μₙ = -1.52\u00a0\u00a0\u00a0ρ/ρ₀ = 0.0", "Set I:\u00a0\u00a0\u00a0μₚ = 2.74\u00a0\u00a0\u00a0\u00a0μₙ = -1.52\u00a0\u00a0\u00a0ρ/ρ₀ = 0.3\u00a0\u00a0w/o VP", "Set I:\u00a0\u00a0\u00a0μₚ = 2.74\u00a0\u00a0\u00a0\u00a0μₙ = -1.52\u00a0\u00a0\u00a0ρ/ρ₀ = 0.4\u00a0\u00a0w/o VP", "Set II:\u00a0μₚ = 3.05\u00a0\u00a0\u00a0\u00a0μₙ = -1.88\u00a0\u00a0\u00a0ρ/ρ₀ = 0.0", "Set II:\u00a0μₚ = 3.05\u00a0\u00a0\u00a0\u00a0μₙ = -1.88\u00a0\u00a0\u00a0ρ/ρ₀ = 0.3\u00a0\u00a0w/o VP", "Set II:\u00a0μₚ = 3.05\u00a0\u00a0\u00a0\u00a0μₙ = -1.88\u00a0\u00a0\u00a0ρ/ρ₀ = 0.4\u00a0\u00a0w/o VP", "Set I:\u00a0\u00a0\u00a0μₚ = 2.74\u00a0\u00a0\u00a0\u00a0μₙ = -1.52\u00a0\u00a0\u00a0ρ/ρ₀ = 0.3", "Set I:\u00a0\u00a0\u00a0μₚ = 2.74\u00a0\u00a0\u00a0\u00a0μₙ = -1.52\u00a0\u00a0\u00a0ρ/ρ₀ = 0.4", "Set II:\u00a0μₚ = 3.05\u00a0\u00a0\u00a0\u00a0μₙ = -1.88\u00a0\u00a0\u00a0ρ/ρ₀ = 0.3", "Set II:\u00a0μₚ = 3.05\u00a0\u00a0\u00a0\u00a0μₙ = -1.88\u00a0\u00a0\u00a0ρ/ρ₀ = 0.4"],
            "range": [[1, 0], [6, 3], [6, 2, 1, 2], [1.5, 2], [5, 2, 1, 2], [5, 2, 1, 2, 1, 2], [1, 0], [1, 0], [1, 0], [1, 0]]
          },
          "legend": {
            "orient": "none", "legendX": 107, "legendY": 18, "title": null,
            "labelFont": "Liberation Serif", "labelFontSize": 11.5, "labelColor": "black", "labelLimit": 400,
            "symbolType": "stroke", "symbolSize": 1024, "symbolStrokeWidth": 1.2,
            "clipHeight": 11, "rowPadding": 5.55, "labelOffset": 8, "padding": 0
          }
        }
      }
    },
    {
      "data": {"name": "black"},
      "mark": {"type": "line", "strokeWidth": 1.3},
      "encoding": {
        "x": {"field": "q2", "type": "quantitative", "axis": null},
        "y": {"field": "g", "type": "quantitative", "axis": null},
        "color": {"field": "series", "type": "nominal"},
        "strokeDash": {"field": "series", "type": "nominal"}
      }
    },
    {
      "data": {"name": "black"},
      "transform": [{"filter": {"field": "series", "oneOf": ["Set I:\u00a0\u00a0\u00a0μₚ = 2.74\u00a0\u00a0\u00a0\u00a0μₙ = -1.52\u00a0\u00a0\u00a0ρ/ρ₀ = 0.4\u00a0\u00a0w/o VP", "Set II:\u00a0μₚ = 3.05\u00a0\u00a0\u00a0\u00a0μₙ = -1.88\u00a0\u00a0\u00a0ρ/ρ₀ = 0.4\u00a0\u00a0w/o VP"]}}],
      "mark": {"type": "square", "filled": true, "size": 14, "color": "black", "opacity": 1},
      "encoding": {
        "x": {"field": "q2", "type": "quantitative", "axis": null},
        "y": {"field": "g", "type": "quantitative", "axis": null}
      }
    },
    {
      "data": {"name": "holher"},
      "mark": {"type": "errorbar", "ticks": {"size": 7, "color": "black"}, "color": "black", "thickness": 1},
      "encoding": {
        "x": {"field": "q2", "type": "quantitative", "axis": null},
        "y": {"field": "lo", "type": "quantitative", "axis": null},
        "y2": {"field": "hi"}
      }
    },
    {
      "data": {"name": "holher"},
      "mark": {"type": "point", "filled": true, "size": 36, "opacity": 1, "color": "black"},
      "encoding": {
        "x": {
          "field": "q2", "type": "quantitative",
          "axis": {
            "orient": "top", "labels": false, "title": null,
            "values": [0, 0.2, 0.4, 0.6, 0.8, 1, 1.2, 1.4, 1.6, 1.8, 2, 2.2, 2.4, 2.6, 2.8, 3, 3.2, 3.4, 3.6, 3.8, 4],
            "tickSize": {"condition": {"test": "datum.value % 1 === 0", "value": -7}, "value": -4}
          }
        },
        "y": {
          "field": "g", "type": "quantitative",
          "axis": {
            "orient": "right", "labels": false, "title": null,
            "values": [-0.1, -0.05, 0, 0.05, 0.1, 0.15, 0.2, 0.25, 0.3, 0.35, 0.4, 0.45, 0.5, 0.55, 0.6, 0.65, 0.7, 0.75, 0.8, 0.85, 0.9, 0.95, 1, 1.05, 1.1, 1.15, 1.2],
            "tickSize": {"condition": {"test": "abs(datum.value*5 - round(datum.value*5)) < 0.001", "value": -7}, "value": -4}
          }
        },
        "shape": {
          "field": "series", "type": "nominal",
          "scale": {"domain": ["Holher (1976)"], "range": ["circle"]},
          "legend": {
            "orient": "none", "legendX": 120, "legendY": 2, "title": null,
            "labelFont": "Liberation Serif", "labelFontSize": 11.5, "labelColor": "black", "labelLimit": 400,
            "symbolSize": 30, "symbolFillColor": "black", "symbolStrokeColor": "black", "symbolStrokeWidth": 0,
            "clipHeight": 11, "labelOffset": 22, "padding": 0
          }
        }
      }
    }
  ],
  "resolve": {"axis": {"x": "independent", "y": "independent"}}
}
